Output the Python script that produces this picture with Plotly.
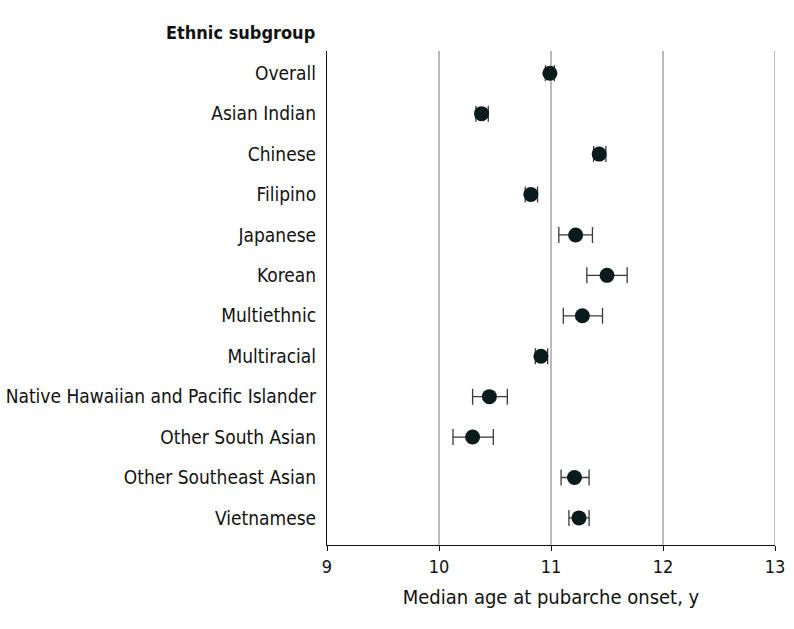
import plotly.graph_objects as go

categories = ["Overall", "Asian Indian", "Chinese", "Filipino", "Japanese", "Korean",
              "Multiethnic", "Multiracial", "Native Hawaiian and Pacific Islander",
              "Other South Asian", "Other Southeast Asian", "Vietnamese"]
median_age = [10.99, 10.38, 11.43, 10.82, 11.22, 11.50, 11.28, 10.91, 10.45, 10.30, 11.21, 11.25]
ci_low = [10.95, 10.33, 11.38, 10.77, 11.07, 11.32, 11.11, 10.86, 10.30, 10.125, 11.09, 11.16]
ci_high = [11.03, 10.44, 11.49, 10.88, 11.37, 11.68, 11.46, 10.97, 10.61, 10.485, 11.34, 11.34]
x_ticks = [9, 10, 11, 12, 13]

FONT = "DejaVu Sans Condensed, Roboto, sans-serif"
GRID = "#bbbbbb"
ypos = list(range(len(categories)))
err_plus = [h - m for h, m in zip(ci_high, median_age)]
err_minus = [m - l for m, l in zip(median_age, ci_low)]

fig = go.Figure()
fig.add_trace(go.Scatter(
    x=median_age, y=ypos, mode="markers",
    marker=dict(size=15, color="#0b1a1c"),
    error_x=dict(type="data", symmetric=False, array=err_plus, arrayminus=err_minus,
                 color="#3a3a3a", thickness=1.3, width=8),
    showlegend=False, hoverinfo="x+y",
))

# gridline at the last tick (plotly omits gridlines on the range edge)
fig.add_vline(x=x_ticks[-1], line=dict(color=GRID, width=2), layer="below")

fig.update_layout(
    width=794, height=629,
    margin=dict(l=327, r=19, t=51, b=84),
    plot_bgcolor="white", paper_bgcolor="white",
    font=dict(family=FONT, size=19, color="#111111"),
    xaxis=dict(range=[x_ticks[0], x_ticks[-1]], tickvals=x_ticks, showgrid=True,
               gridcolor=GRID, gridwidth=2, zeroline=False, showline=True,
               linecolor="#111111", linewidth=1.2, ticks="outside", ticklen=5,
               tickcolor="#111111", tickfont=dict(size=18), automargin=False,
               title=dict(text="Median age at pubarche onset, y", font=dict(size=20), standoff=14)),
    yaxis=dict(range=[11.67, -0.55], tickvals=ypos, ticktext=categories,
               showgrid=False, zeroline=False, showline=True, linecolor="#111111",
               linewidth=1.2, ticks="", ticklabelstandoff=6, tickfont=dict(size=19),
               automargin=False),
    annotations=[dict(text="<b>Ethnic subgroup</b>", xref="paper", yref="paper",
                      x=0, y=1, xanchor="right", yanchor="middle", xshift=-10, yshift=19,
                      showarrow=False, font=dict(size=18, color="#111111"))],
)

fig.write_html("out.html", config={"displayModeBar": False},
               post_script="document.body.style.margin='0';")
